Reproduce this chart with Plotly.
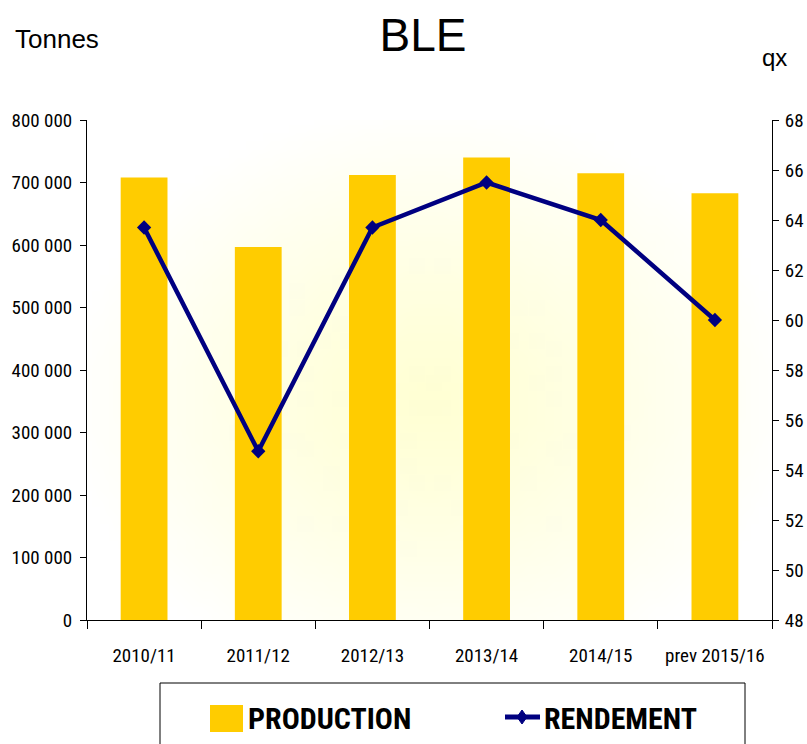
import zlib, struct, base64
import plotly.graph_objects as go

categories = ["2010/11", "2011/12", "2012/13", "2013/14", "2014/15", "prev 2015/16"]
production = [708000, 597000, 712000, 740000, 715000, 683000]
rendement = [63.7, 54.75, 63.7, 65.5, 64.0, 60.0]
left_ticks = [0, 100000, 200000, 300000, 400000, 500000, 600000, 700000, 800000]
left_ticktext = ["0", "100 000", "200 000", "300 000", "400 000", "500 000", "600 000", "700 000", "800 000"]
right_ticks = [48, 50, 52, 54, 56, 58, 60, 62, 64, 66, 68]

GOLD = "#FFCC00"
NAVY = "#000080"
NARROW = "Liberation Sans Narrow, Arial Narrow, Roboto Condensed, DejaVu Sans Condensed, sans-serif"
SANS = "Liberation Sans, Arial, sans-serif"

# page geometry (px)
W, H = 807, 744
L, R, T, B = 87, 772, 120, 620
pw, ph = R - L, B - T


def px2x(px):
    return (px - L) / pw


def py2y(py):
    return (B - py) / ph


# radial background gradient as a small PNG
def make_gradient(w, h):
    rows = []
    for j in range(h):
        v = j / (h - 1)
        row = bytearray([0])
        for i in range(w):
            u = i / (w - 1)
            dx = (u - 0.5) / 0.5
            dy = (v - 0.56) / 0.56
            t = min(1.0, ((dx * dx + dy * dy) ** 0.5) / 1.05)
            t = t ** 1.2
            c = (255, 255, 212)
            row += bytes([int(c[k] * (1 - t) + 255 * t) for k in range(3)])
        rows.append(bytes(row))
    raw = b"".join(rows)

    def chunk(tag, data):
        return (struct.pack(">I", len(data)) + tag + data
                + struct.pack(">I", zlib.crc32(tag + data) & 0xFFFFFFFF))

    png = (b"\x89PNG\r\n\x1a\n"
           + chunk(b"IHDR", struct.pack(">IIBBBBB", w, h, 8, 2, 0, 0, 0))
           + chunk(b"IDAT", zlib.compress(raw, 9))
           + chunk(b"IEND", b""))
    return "data:image/png;base64," + base64.b64encode(png).decode()


fig = go.Figure()
fig.add_trace(go.Bar(x=categories, y=production, marker=dict(color=GOLD, line=dict(width=0)),
                     name="PRODUCTION", showlegend=False, yaxis="y"))
fig.add_trace(go.Scatter(x=categories, y=rendement, mode="lines+markers", name="RENDEMENT",
                         line=dict(color=NAVY, width=4.5),
                         marker=dict(symbol="diamond", size=11, color=NAVY),
                         showlegend=False, yaxis="y2"))

shapes = []
annotations = []
# legend box
shapes.append(dict(type="rect", xref="paper", yref="paper",
                   x0=px2x(160), x1=px2x(745), y0=py2y(770), y1=py2y(683),
                   line=dict(color="black", width=1), fillcolor="white", layer="above"))
# production legend symbol
shapes.append(dict(type="rect", xref="paper", yref="paper",
                   x0=px2x(210), x1=px2x(243), y0=py2y(732), y1=py2y(705),
                   line=dict(width=0), fillcolor=GOLD, layer="above"))
# rendement legend symbol
shapes.append(dict(type="line", xref="paper", yref="paper",
                   x0=px2x(505), x1=px2x(540), y0=py2y(717), y1=py2y(717),
                   line=dict(color=NAVY, width=5), layer="above"))
shapes.append(dict(type="path", xref="paper", yref="paper",
                   path="M {} {} L {} {} L {} {} L {} {} Z".format(
                       px2x(522), py2y(710), px2x(527), py2y(717),
                       px2x(522), py2y(724), px2x(517), py2y(717)),
                   line=dict(color=NAVY, width=1), fillcolor=NAVY, layer="above"))
annotations.append(dict(xref="paper", yref="paper", x=px2x(246), y=py2y(718), text="<b>PRODUCTION</b>",
                        showarrow=False, xanchor="left", yanchor="middle",
                        font=dict(family=NARROW, size=30, color="black")))
annotations.append(dict(xref="paper", yref="paper", x=px2x(542), y=py2y(718), text="<b>RENDEMENT</b>",
                        showarrow=False, xanchor="left", yanchor="middle",
                        font=dict(family=NARROW, size=30, color="black")))
annotations.append(dict(xref="paper", yref="paper", x=px2x(13), y=py2y(39), text="Tonnes",
                        showarrow=False, xanchor="left", yanchor="middle",
                        font=dict(family=SANS, size=26, color="black")))
annotations.append(dict(xref="paper", yref="paper", x=px2x(774), y=py2y(58), text="qx",
                        showarrow=False, xanchor="center", yanchor="middle",
                        font=dict(family=SANS, size=24, color="black")))

fig.update_layout(
    width=W, height=H,
    margin=dict(l=L, r=W - R, t=T, b=H - B, pad=0, autoexpand=False),
    paper_bgcolor="white", plot_bgcolor="white",
    title=dict(text="BLE", x=423 / W, xanchor="center", y=1 - 35 / H, yanchor="middle",
               font=dict(family=SANS, size=46, color="black")),
    showlegend=False,
    bargap=0.59,
    xaxis=dict(type="category", showgrid=False, showline=True, linecolor="black", linewidth=1,
               ticks="outside", tickson="boundaries", ticklen=8, tickcolor="black",
               tickfont=dict(family=NARROW, size=19, color="black"), ticklabelstandoff=18,
               zeroline=False, automargin=False),
    yaxis=dict(range=[0, 800000], tickvals=left_ticks, ticktext=left_ticktext, showgrid=False,
               showline=True, linecolor="black", linewidth=1, ticks="outside", ticklen=6,
               tickcolor="black", tickfont=dict(family=NARROW, size=19, color="black"),
               ticklabelstandoff=4, zeroline=False, automargin=False),
    yaxis2=dict(range=[48, 68], tickvals=right_ticks, overlaying="y", side="right", showgrid=False,
                showline=True, linecolor="black", linewidth=1, ticks="outside", ticklen=6,
                tickcolor="black", tickfont=dict(family=NARROW, size=19, color="black"),
                ticklabelstandoff=2, zeroline=False, automargin=False),
    images=[dict(source=make_gradient(80, 60), xref="paper", yref="paper", x=0, y=1,
                 sizex=1, sizey=1, sizing="stretch", layer="below", xanchor="left", yanchor="top")],
    shapes=shapes,
    annotations=annotations,
)

fig.write_html("out.html", config={"displayModeBar": False},
               post_script="document.body.style.margin='0';document.body.style.overflow='hidden';")
